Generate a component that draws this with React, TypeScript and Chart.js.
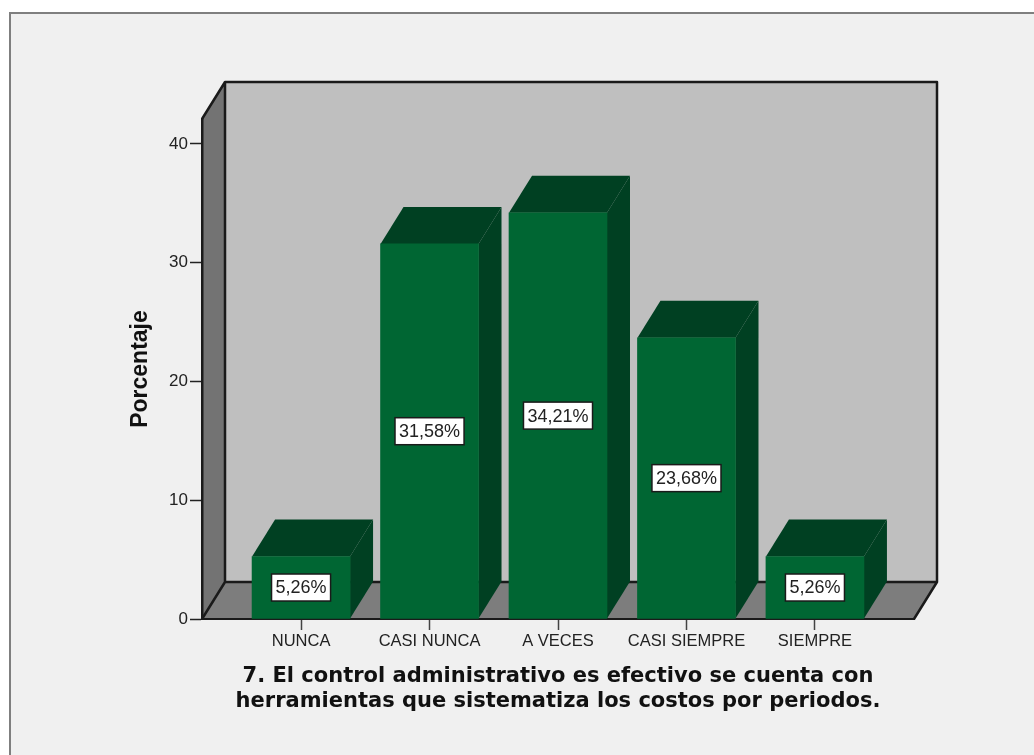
import React, { useEffect, useRef } from "react";
import { Chart, registerables } from "chart.js";

Chart.register(...registerables);

const categories = ["NUNCA", "CASI NUNCA", "A VECES", "CASI SIEMPRE", "SIEMPRE"];
const percentages = [5.26, 31.58, 34.21, 23.68, 5.26];
const yTicks = [0, 10, 20, 30, 40];
const axisTitle = "Porcentaje";
const chartTitle = [
  "7. El control administrativo es efectivo se cuenta con",
  "herramientas que sistematiza los costos por periodos.",
];

const DEPTH_X = 23;
const DEPTH_Y = -37;

function fillPoly(ctx: CanvasRenderingContext2D, pts: number[][], fill: string) {
  ctx.beginPath();
  pts.forEach(([x, y], i) => (i ? ctx.lineTo(x, y) : ctx.moveTo(x, y)));
  ctx.closePath();
  ctx.fillStyle = fill;
  ctx.fill();
}

// Page background, panel frame and the box walls behind the bars.
const boxPlugin = {
  id: "box3d",
  beforeDraw(chart: any) {
    const { ctx, width, height, chartArea: a } = chart;
    ctx.save();
    ctx.fillStyle = "#ffffff";
    ctx.fillRect(0, 0, width, height);
    ctx.fillStyle = "#f0f0f0";
    ctx.fillRect(10, 13, width, height);
    ctx.strokeStyle = "#7f7f7f";
    ctx.lineWidth = 2;
    ctx.beginPath();
    ctx.moveTo(10, height);
    ctx.lineTo(10, 13);
    ctx.lineTo(width, 13);
    ctx.stroke();

    const bl = [a.left, a.bottom];
    const tl = [a.left, a.top];
    const br = [a.right, a.bottom];
    const bbl = [a.left + DEPTH_X, a.bottom + DEPTH_Y];
    const btl = [a.left + DEPTH_X, a.top + DEPTH_Y];
    const bbr = [a.right + DEPTH_X, a.bottom + DEPTH_Y];
    const btr = [a.right + DEPTH_X, a.top + DEPTH_Y];

    fillPoly(ctx, [btl, btr, bbr, bbl], "#bfbfbf");
    fillPoly(ctx, [tl, btl, bbl, bl], "#737373");
    fillPoly(ctx, [bl, bbl, bbr, br], "#7d7d7d");

    ctx.strokeStyle = "#1a1a1a";
    ctx.lineWidth = 2.5;
    ctx.lineJoin = "round";
    ctx.beginPath();
    ctx.moveTo(tl[0], tl[1]);
    ctx.lineTo(btl[0], btl[1]);
    ctx.lineTo(btr[0], btr[1]);
    ctx.lineTo(bbr[0], bbr[1]);
    ctx.lineTo(br[0], br[1]);
    ctx.moveTo(btl[0], btl[1]);
    ctx.lineTo(bbl[0], bbl[1]);
    ctx.lineTo(bbr[0], bbr[1]);
    ctx.moveTo(bbl[0], bbl[1]);
    ctx.lineTo(bl[0], bl[1]);
    ctx.stroke();
    ctx.restore();
  },
  // Top and side faces of each bar.
  beforeDatasetsDraw(chart: any) {
    const { ctx } = chart;
    ctx.save();
    chart.getDatasetMeta(0).data.forEach((bar: any) => {
      const l = bar.x - bar.width / 2;
      const r = bar.x + bar.width / 2;
      const t = bar.y;
      const b = bar.base;
      fillPoly(ctx, [[l, t], [l + DEPTH_X, t + DEPTH_Y], [r + DEPTH_X, t + DEPTH_Y], [r, t]], "#004022");
      fillPoly(ctx, [[r, t], [r + DEPTH_X, t + DEPTH_Y], [r + DEPTH_X, b + DEPTH_Y], [r, b]], "#004022");
    });
    ctx.restore();
  },
  // White value boxes centred on each bar's front face.
  afterDatasetsDraw(chart: any) {
    const { ctx } = chart;
    ctx.save();
    ctx.font = '18px "Liberation Sans"';
    ctx.textAlign = "center";
    ctx.textBaseline = "middle";
    chart.getDatasetMeta(0).data.forEach((bar: any, i: number) => {
      const text = percentages[i].toFixed(2).replace(".", ",") + "%";
      const w = ctx.measureText(text).width + 8;
      const cy = (bar.y + bar.base) / 2;
      ctx.fillStyle = "#ffffff";
      ctx.fillRect(bar.x - w / 2, cy - 13.5, w, 27);
      ctx.strokeStyle = "#1a1a1a";
      ctx.lineWidth = 1.5;
      ctx.strokeRect(bar.x - w / 2, cy - 13.5, w, 27);
      ctx.fillStyle = "#222222";
      ctx.fillText(text, bar.x, cy + 1);
    });
    ctx.restore();
  },
};

export default function App() {
  const ref = useRef<HTMLCanvasElement>(null);

  useEffect(() => {
    const chart = new Chart(ref.current!, {
      type: "bar",
      data: {
        datasets: [
          {
            data: percentages.map((y, x) => ({ x, y })),
            backgroundColor: "#006633",
            borderWidth: 0,
            barThickness: 98,
          },
        ],
      },
      plugins: [boxPlugin],
      options: {
        responsive: false,
        animation: false,
        layout: { padding: { top: 119, right: 120, left: 0, bottom: 41 } },
        plugins: { legend: { display: false }, tooltip: { enabled: false } },
        scales: {
          x: {
            type: "linear",
            offset: false,
            min: -0.771,
            max: 4.771,
            afterBuildTicks: (axis: any) => {
              axis.ticks = categories.map((_, value) => ({ value }));
            },
            afterFit: (axis: any) => {
              axis.height = 95;
            },
            border: { display: true, color: "#1a1a1a", width: 2 },
            grid: { display: true, offset: false, drawOnChartArea: false, drawTicks: true, tickLength: 11, tickColor: "#444444", tickWidth: 1.5 },
            ticks: {
              autoSkip: false,
              maxRotation: 0,
              padding: 2,
              color: "#222222",
              font: { family: "Liberation Sans", size: 16.5 },
              callback: (v: any) => categories[v],
            },
            title: {
              display: true,
              text: chartTitle,
              color: "#111111",
              font: { family: "DejaVu Sans", size: 21, weight: "bold", lineHeight: 1.2 },
              padding: { top: 12, bottom: 0 },
            },
          },
          y: {
            min: 0,
            max: 42.1,
            afterBuildTicks: (axis: any) => {
              axis.ticks = yTicks.map((value) => ({ value }));
            },
            afterFit: (axis: any) => {
              axis.width = 202;
            },
            border: { display: true, color: "#1a1a1a", width: 2.5 },
            grid: { display: true, drawOnChartArea: false, drawTicks: true, tickLength: 12, tickColor: "#222222", tickWidth: 1.5 },
            ticks: {
              padding: 2,
              color: "#222222",
              font: { family: "Liberation Sans", size: 17 },
            },
            title: {
              display: true,
              text: axisTitle,
              color: "#111111",
              font: { family: "Liberation Sans", size: 23, weight: "bold" },
              padding: { top: 127, bottom: 0 },
            },
          },
        },
      },
    } as any);
    return () => chart.destroy();
  }, []);

  return (
    <canvas
      ref={ref}
      width={1034}
      height={755}
      style={{ position: "absolute", left: 0, top: 0, display: "block" }}
    />
  );
}
